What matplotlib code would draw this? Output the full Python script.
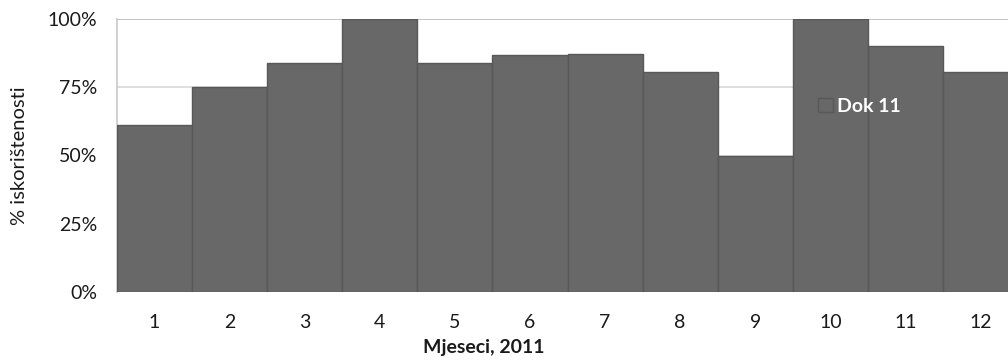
import matplotlib
matplotlib.use("Agg")
import matplotlib.pyplot as plt
from matplotlib.ticker import FuncFormatter

# Monthly utilisation of dock 11 in 2011 (percent)
months = ["1", "2", "3", "4", "5", "6", "7", "8", "9", "10", "11", "12"]
usage = [61.3, 75.0, 83.9, 100.0, 83.9, 86.7, 87.1, 80.6, 50.0, 100.0, 90.0, 80.6]
series_name = "Dok 11"
y_ticks = [0, 25, 50, 75, 100]

plt.rcParams["font.family"] = ["Lato", "DejaVu Sans"]

W, H = 1008, 362
fig = plt.figure(figsize=(W / 100, H / 100), dpi=100)
fig.patch.set_facecolor("white")

# plot area runs slightly past the right edge of the canvas
ax = fig.add_axes([117 / W, 70 / H, 901 / W, 273 / H])

x = list(range(len(months)))
bars = ax.bar(x, usage, width=1.0, color="#686868", edgecolor="#585858",
              linewidth=1.0, zorder=3, label=series_name)

ax.set_xlim(-0.5, len(months) - 0.5)
ax.set_ylim(0, 100)
ax.set_yticks(y_ticks)
ax.yaxis.set_major_formatter(FuncFormatter(lambda v, _: f"{v:.0f}%"))
ax.set_xticks(x)
ax.set_xticklabels(months)

ax.grid(axis="y", color="#d9d9d9", linewidth=1.2, zorder=0)
ax.set_axisbelow(True)
for s in ["right", "bottom", "top"]:
    ax.spines[s].set_visible(False)
ax.spines["left"].set_color("#c8c8c8")
ax.spines["left"].set_linewidth(1.2)
ax.axhline(100, color="#c0c0c0", linewidth=1.2, zorder=1)

ax.tick_params(axis="both", length=0, labelsize=14, colors="#1a1a1a")
ax.tick_params(axis="y", pad=14)
ax.tick_params(axis="x", pad=16)

fig.text(20 / W, 1 - 156 / H, "% iskorištenosti", rotation=90, ha="center",
         va="center", fontsize=14.5, color="#1a1a1a")
fig.text(484 / W, 1 - 347 / H, "Mjeseci, 2011", ha="center", va="center",
         fontsize=14, fontweight="bold", color="#1a1a1a")

leg = fig.legend(handles=[bars], labels=[series_name], loc="center left",
                 bbox_to_anchor=(818 / W, 1 - 106 / H), frameon=False,
                 fontsize=14, handlelength=0.75, handleheight=0.75,
                 handletextpad=0.25, borderpad=0, borderaxespad=0)
for t in leg.get_texts():
    t.set_color("white")
    t.set_fontweight("bold")

fig.savefig("out.png", dpi=100, facecolor="white")
